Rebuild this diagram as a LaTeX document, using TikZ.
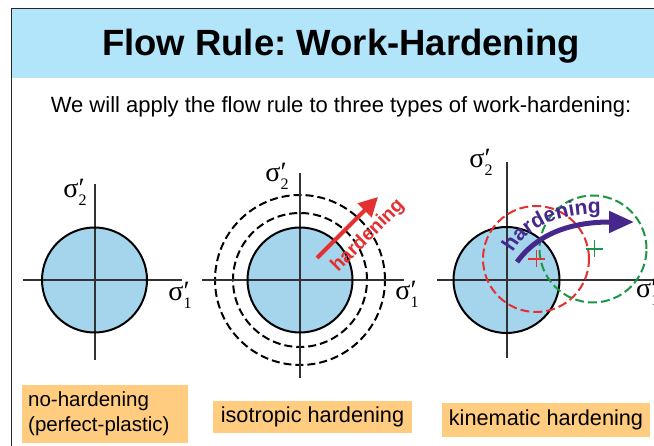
\documentclass[tikz,border=0pt]{standalone}
\usepackage{fontspec}
\setmainfont{Liberation Sans}
\newfontfamily\grk{Liberation Serif}
\usetikzlibrary{arrows.meta,decorations.text}
\frenchspacing
\definecolor{hdrblue}{RGB}{178,228,250}
\definecolor{yfill}{RGB}{164,213,236}
\definecolor{boxor}{RGB}{255,204,128}
\definecolor{hred}{RGB}{228,48,48}
\definecolor{hgreen}{RGB}{28,150,70}
\definecolor{hpurp}{RGB}{70,40,140}
\definecolor{axisc}{RGB}{50,50,50}
\newcommand{\sigl}[1]{{\grk σ\rlap{′}\raisebox{-0.28em}{\fontsize{16}{16}\selectfont #1}}}
\tikzset{
  frameline/.style={draw=black!85, line width=1.5pt},
  axisline/.style={draw=axisc, line width=1.3pt},
  yieldfill/.style={fill=yfill},
  yieldline/.style={draw=black, line width=2pt},
  blackdash/.style={draw=black, line width=2pt, dash pattern=on 8pt off 4pt},
  reddash/.style={draw=hred, line width=2pt, dash pattern=on 9pt off 4pt},
  greendash/.style={draw=hgreen, line width=2pt, dash pattern=on 9pt off 4pt},
  siglabel/.style={inner sep=0pt, font=\fontsize{28}{28}\selectfont},
  labelbox/.style={fill=boxor, inner sep=0pt, font=\fontsize{21.7}{25}\selectfont},
}
\begin{document}
\begin{tikzpicture}[x=1pt,y=1pt]
\clip (0,0) rectangle (654,-446);
\fill[white] (0,0) rectangle (654,-446);
% header
\fill[hdrblue] (12,-9) rectangle (654,-78);
\draw[frameline] (11.5,-446) -- (11.5,-8.5) -- (654,-8.5);
\node (title) at (341,-46) {\fontsize{36.5}{36.5}\selectfont\bfseries Flow Rule: Work-Hardening};
\node (sub) at (341,-107) {\fontsize{22}{22}\selectfont We will apply the flow rule to three types of work-hardening:};

% diagram 1: no hardening
\fill[yieldfill] (94.5,-280) circle (52.5);
\draw[axisline] (23,-280) -- (182,-280);
\draw[axisline] (95,-184) -- (95,-360);
\draw[yieldline] (94.5,-280) circle (52.5);
\node[siglabel] (s2a) at (75,-192) {\sigl{2}};
\node[siglabel] (s1a) at (180,-295) {\sigl{1}};

% diagram 2: isotropic
\fill[yieldfill] (300,-280) circle (52.5);
\draw[blackdash] (300,-280) circle (67);
\draw[blackdash] (300,-280) circle (85);
\draw[axisline] (202,-280) -- (404,-280);
\draw[axisline] (300,-173) -- (300,-378);
\draw[yieldline] (300,-280) circle (52.5);
\node[siglabel] (s2b) at (277,-176) {\sigl{2}};
\node[siglabel] (s1b) at (407,-294) {\sigl{1}};
\coordinate (ra) at (317,-258);
\coordinate (rb) at (378,-197);
\draw[draw=hred, line width=4pt, -{Triangle[length=19pt,width=19pt]}] (ra) -- (rb);
\node[rotate=45, text=hred, font=\fontsize{19.5}{19.5}\selectfont\bfseries] (hardb) at (368,-236) {hardening};

% diagram 3: kinematic
\fill[yieldfill] (506.5,-280) circle (53);
\draw[axisline] (437,-280) -- (654,-280);
\draw[axisline] (507,-162) -- (507,-358);
\draw[yieldline] (506.5,-280) circle (53);
\draw[reddash] (536,-259) circle (53);
\draw[greendash] (593,-249) circle (53.5);
\draw[draw=hred, line width=1.5pt] (528,-259) -- (545,-259) (536.5,-250.5) -- (536.5,-267.5);
\draw[draw=hgreen, line width=1.5pt] (586,-249) -- (603,-249) (594.5,-240.5) -- (594.5,-257.5);
\node[siglabel] (s2c) at (481,-162) {\sigl{2}};
\node[siglabel, anchor=west] (s1c) at (636,-292) {\sigl{1}};
\coordinate (pa) at (517,-262);
\coordinate (pb) at (634,-222);
\draw[draw=hpurp, line width=5pt, -{Triangle[length=25pt,width=21pt]}] (pa) .. controls (538,-233) and (572,-222) .. (pb);
\path[decorate, decoration={text along path, text align=left,
  text={|\fontsize{21}{21}\selectfont\bfseries\color{hpurp}|hardening}}]
  (513,-253) .. controls (527,-226) and (562,-210) .. (618,-214);

% label boxes
\node[labelbox, anchor=west, minimum width=164pt, minimum height=58pt, text width=154pt, inner xsep=6pt, align=left, font=\fontsize{20.5}{25}\selectfont] (lb1) at (22,-414) {no-hardening\\(perfect-plastic)};
\node[labelbox, minimum width=199pt, minimum height=32pt] (lb2) at (312.5,-417) {isotropic hardening};
\node[labelbox, minimum width=208pt, minimum height=34pt] (lb3) at (546,-420) {kinematic hardening};
\end{tikzpicture}
\end{document}
